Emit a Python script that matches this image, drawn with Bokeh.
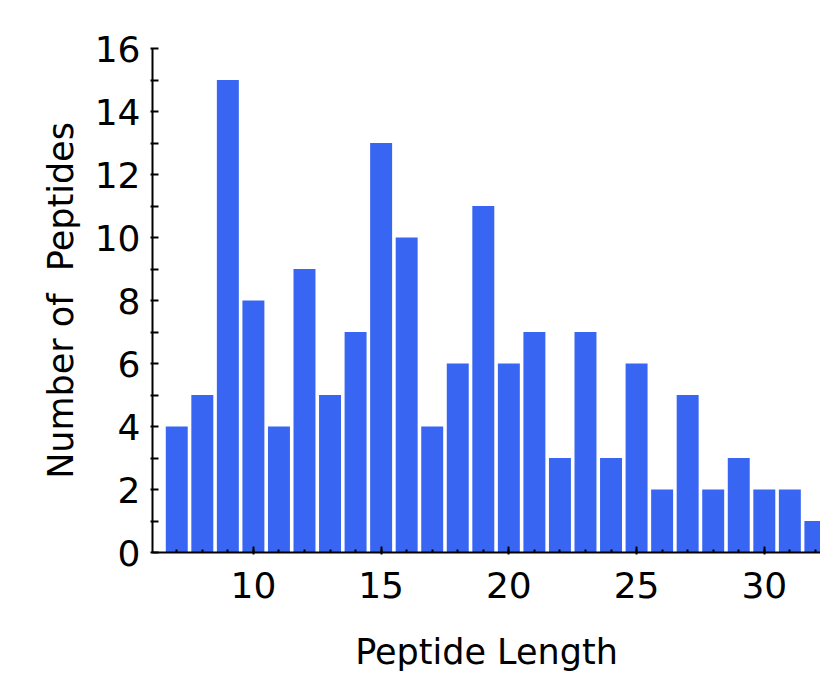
from bokeh.plotting import figure
from bokeh.models import FixedTicker, Range1d
from bokeh.embed import file_html
from bokeh.resources import INLINE

lengths = [7, 8, 9, 10, 11, 12, 13, 14, 15, 16, 17, 18, 19, 20, 21, 22, 23, 24, 25, 26, 27, 28, 29, 30, 31, 32]
counts = [4, 5, 15, 8, 4, 9, 5, 7, 13, 10, 4, 6, 11, 6, 7, 3, 7, 3, 6, 2, 5, 2, 3, 2, 2, 1]
x_ticks = [10, 15, 20, 25, 30]
y_ticks = [0, 2, 4, 6, 8, 10, 12, 14, 16]
y_minor = [1, 3, 5, 7, 9, 11, 13, 15]

FONT = "DejaVu Sans"

p = figure(width=820, height=675, output_backend="svg", toolbar_location=None,
           x_range=Range1d(6.05, 32.2), y_range=Range1d(0, 16),
           min_border_left=152, min_border_right=0, min_border_top=48, min_border_bottom=123)
p.outline_line_color = None
p.grid.visible = False
p.background_fill_color = "white"

p.vbar(x=lengths, top=counts, width=0.86, bottom=0, fill_color="#3866f2", line_color=None)

xa = p.xaxis[0]
xa.ticker = FixedTicker(ticks=x_ticks, minor_ticks=lengths)
xa.axis_label = "Peptide Length"
ya = p.yaxis[0]
ya.ticker = FixedTicker(ticks=y_ticks, minor_ticks=y_minor)
ya.axis_label = "Number of\u00a0 Peptides"

for ax in (xa, ya):
    ax.axis_line_color = "black"
    ax.axis_line_width = 2
    ax.major_tick_line_color = "black"
    ax.minor_tick_line_color = "black"
    ax.major_tick_line_width = 2
    ax.minor_tick_line_width = 2
    ax.major_tick_in = 6
    ax.major_tick_out = 2
    ax.major_label_text_font = FONT
    ax.major_label_text_font_size = "36px"
    ax.major_label_text_color = "black"
    ax.axis_label_text_font = FONT
    ax.axis_label_text_font_size = "35px"
    ax.axis_label_text_font_style = "normal"
    ax.axis_label_text_color = "black"

xa.minor_tick_in = 3
xa.minor_tick_out = 0
ya.minor_tick_in = 6
ya.minor_tick_out = 2
xa.major_label_standoff = 17
ya.major_label_standoff = 10
xa.axis_label_standoff = 31
ya.axis_label_standoff = 11

open("out.html", "w").write(file_html(p, INLINE))
